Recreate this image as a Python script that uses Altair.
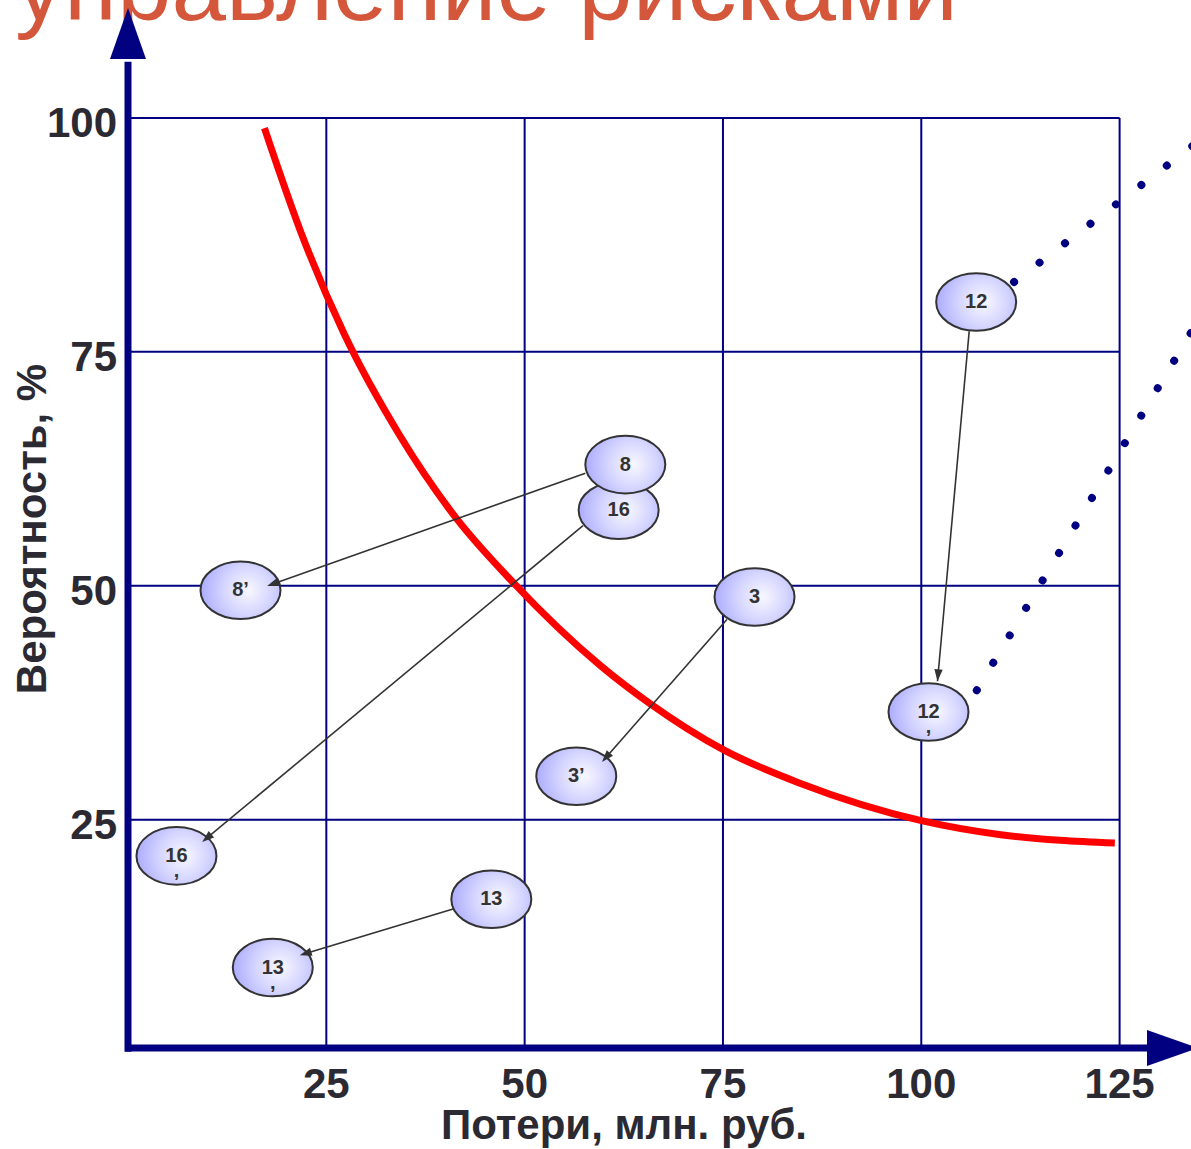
import math
import altair as alt
import pandas as pd

# ---------------- data ----------------
x_ticks = [25, 50, 75, 100, 125]
y_ticks = [25, 50, 75, 100]

# red acceptable-risk curve
curve_x = [17.2, 21.7, 27.2, 34.3, 41.3, 48.6, 59.5, 65.8, 75.2, 84.7, 100.0, 110.0, 117.5, 124.4]
curve_y = [98.9, 88.0, 77.0, 66.0, 57.3, 50.3, 41.5, 37.4, 32.4, 28.9, 24.9, 23.4, 22.8, 22.5]

# risks (ellipses)
risk_labels = ["16", "8", "3", "3’", "8’", "16\n,", "13", "13\n,", "12", "12\n,"]
risk_x = [61.85, 62.69, 78.98, 56.51, 14.18, 6.11, 45.80, 18.25, 106.92, 100.91]
risk_y = [58.07, 62.95, 48.80, 29.64, 49.52, 21.13, 16.50, 9.20, 80.33, 36.51]

# arrows: initial -> after mitigation
arrow_from_x = [57.65, 57.36, 75.50, 106.04, 41.39]
arrow_from_y = [62.02, 56.43, 46.39, 77.20, 15.57]
arrow_to_x = [17.54, 9.35, 59.75, 102.04, 21.65]
arrow_to_y = [49.98, 22.62, 31.17, 39.79, 10.51]

# dotted lines
dot_line_id = ["upper", "upper", "lower", "lower"]
dot_x = [111.7, 134.5, 107.0, 134.1]
dot_y = [82.46, 97.2, 38.83, 77.2]

title_text = ["управление рисками"]
x_title = ["Потери, млн. руб."]
y_title = ["Вероятность, %"]

# ---------------- layout ----------------
W, H = 1063, 1048
X_DOM = [0, 134]
Y_DOM = [0.6, 112.6]
SX = W / (X_DOM[1] - X_DOM[0])
SY = H / (Y_DOM[1] - Y_DOM[0])

NAVY = "#000080"
TXT = "#2b2a33"
FONT = "Liberation Sans"

xs = alt.Scale(domain=X_DOM, nice=False, zero=False)
ys = alt.Scale(domain=Y_DOM, nice=False, zero=False)

one = pd.DataFrame({"k": [0]})


def X(f):
    return alt.X(f, scale=xs, axis=None)


def Y(f):
    return alt.Y(f, scale=ys, axis=None)


title = alt.Chart(pd.DataFrame({"t": title_text})).mark_text(
    font=FONT, fontSize=98, color="#d4573b", align="left", baseline="alphabetic"
).encode(x=alt.value(-113), y=alt.value(20), text="t:N")

vgrid = alt.Chart(pd.DataFrame({"x": x_ticks})).mark_rule(color=NAVY, strokeWidth=2).encode(
    x=X("x:Q"),
    y=alt.YDatum(datum=0.6, scale=ys, axis=None),
    y2=alt.datum(100),
)
hgrid = alt.Chart(pd.DataFrame({"y": y_ticks})).mark_rule(color=NAVY, strokeWidth=2).encode(
    y=Y("y:Q"),
    x=alt.XDatum(datum=0, scale=xs, axis=None),
    x2=alt.datum(125),
)

xlabels = alt.Chart(pd.DataFrame({"v": x_ticks})).mark_text(
    font=FONT, fontSize=42, fontWeight="bold", color=TXT, align="center", baseline="top"
).encode(x=X("v:Q"), y=alt.value(H + 17), text=alt.Text("v:Q", format="d"))

ylabels = alt.Chart(pd.DataFrame({"v": y_ticks})).mark_text(
    font=FONT, fontSize=42, fontWeight="bold", color=TXT, align="right", baseline="middle", dy=6.5
).encode(x=alt.value(-11), y=Y("v:Q"), text=alt.Text("v:Q", format="d"))

xtitle = alt.Chart(pd.DataFrame({"t": x_title})).mark_text(
    font=FONT, fontSize=42, fontWeight="bold", color=TXT, align="center", baseline="alphabetic"
).encode(x=alt.value(496), y=alt.value(1139), text="t:N")

ytitle = alt.Chart(pd.DataFrame({"t": y_title})).mark_text(
    font=FONT, fontSize=42, fontWeight="bold", color=TXT, align="center", baseline="alphabetic",
    angle=270,
).encode(x=alt.value(-82), y=alt.value(529), text="t:N")

yaxis_line = alt.Chart(one).mark_rule(color=NAVY, strokeWidth=7).encode(
    x=alt.XDatum(datum=0, scale=xs, axis=None),
    y=alt.YDatum(datum=0.2, scale=ys, axis=None),
    y2=alt.datum(106),
)
xaxis_line = alt.Chart(one).mark_rule(color=NAVY, strokeWidth=7).encode(
    y=alt.YDatum(datum=0.6, scale=ys, axis=None),
    x=alt.XDatum(datum=-0.3, scale=xs, axis=None),
    x2=alt.datum(130),
)

axis_arrows = alt.Chart(pd.DataFrame({"x": [0, 134.88], "y": [111.75, 0.6], "a": [0, 90]})).mark_point(
    shape="M 0 0 L 0.353 1 L -0.353 1 Z", size=10404, filled=True, fill=NAVY, opacity=1, strokeWidth=0
).encode(x=X("x:Q"), y=Y("y:Q"), angle=alt.Angle("a:Q", scale=None))

curve = alt.Chart(pd.DataFrame({"x": curve_x, "y": curve_y})).mark_line(
    color="#ff0000", strokeWidth=7, interpolate="monotone"
).encode(x=X("x:Q"), y=Y("y:Q"), order=alt.Order("x:Q"))

dotted = alt.Chart(pd.DataFrame({"id": dot_line_id, "x": dot_x, "y": dot_y})).mark_line(
    color=NAVY, strokeWidth=8, strokeDash=[0.01, 32], strokeCap="round"
).encode(x=X("x:Q"), y=Y("y:Q"), detail="id:N")

arr_df = pd.DataFrame({"x1": arrow_from_x, "y1": arrow_from_y, "x2": arrow_to_x, "y2": arrow_to_y})
arr_df["ang"] = [
    (math.degrees(math.atan2((b - a) * SX, (d - c) * SY)) + 360) % 360
    for a, b, c, d in zip(arrow_from_x, arrow_to_x, arrow_from_y, arrow_to_y)
]

arrow_lines = alt.Chart(arr_df).mark_rule(color="#333333", strokeWidth=1.6).encode(
    x=X("x1:Q"), y=Y("y1:Q"), x2="x2:Q", y2="y2:Q"
)

grad = alt.RadialGradient(
    gradient="radial",
    stops=[alt.GradientStop(color="#f8f8ff", offset=0),
           alt.GradientStop(color="#d4d4ff", offset=0.5),
           alt.GradientStop(color="#a6a6ff", offset=1)],
    x1=0.6, y1=0.5, r1=0, x2=0.58, y2=0.5, r2=0.62,
)

risk_df = pd.DataFrame({"label": risk_labels, "x": risk_x, "y": risk_y})

ellipses = alt.Chart(risk_df).mark_point(
    shape="M -1 0 A 1 0.72 0 1 1 1 0 A 1 0.72 0 1 1 -1 0 Z",
    size=6400, filled=True, fill=grad, stroke="#333333", strokeWidth=2, opacity=1,
).encode(x=X("x:Q"), y=Y("y:Q"))

labels = alt.Chart(risk_df).mark_text(
    font="Liberation Sans Narrow, Liberation Sans, sans-serif", fontWeight="bold", fontSize=20,
    color="#333333", lineBreak="\n", lineHeight=15, align="center", baseline="middle",
).encode(x=X("x:Q"), y=Y("y:Q"), text="label:N")

heads = alt.Chart(arr_df).mark_point(
    shape="M 0 0 L 0.35 1 L -0.35 1 Z", size=576, filled=True, fill="#333333", opacity=1, strokeWidth=0
).encode(x=X("x2:Q"), y=Y("y2:Q"), angle=alt.Angle("ang:Q", scale=None))

chart = alt.layer(
    title, vgrid, hgrid, curve, dotted, arrow_lines, ellipses, labels, heads,
    yaxis_line, xaxis_line, axis_arrows, xlabels, ylabels, xtitle, ytitle
).properties(
    width=W, height=H,
    autosize=alt.AutoSizeParams(type="none"),
    padding={"left": 128, "top": 0, "right": 0, "bottom": 101},
    background="white",
).configure_view(strokeWidth=0)

chart.save("out.html", embed_options={"renderer": "svg", "actions": False})
